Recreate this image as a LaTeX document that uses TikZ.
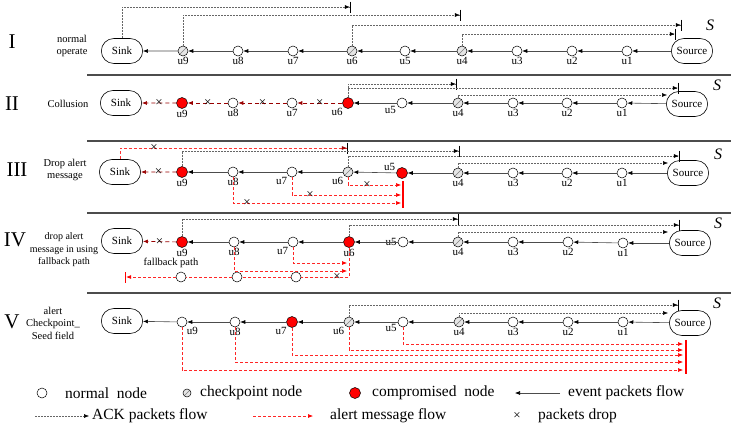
\documentclass[tikz,border=0pt]{standalone}
\usepackage{fontspec}
\setmainfont{Liberation Serif}
\usetikzlibrary{arrows.meta,shapes.misc,positioning}

\tikzset{
  nnode/.style={draw,circle,minimum size=10pt,inner sep=0pt,line width=0.5pt,fill=white},
  cnode/.style={nnode,fill=gray!20,path picture={\draw[gray,line width=0.6pt] (path picture bounding box.south west) -- (path picture bounding box.north east);}},
  rnode/.style={nnode,fill=red,minimum size=11pt},
  endbox/.style={draw,rounded rectangle,minimum width=48pt,minimum height=25pt,line width=0.6pt,font=\fontsize{11}{12}\selectfont},
  lbl/.style={font=\fontsize{11}{12}\selectfont,inner sep=1pt},
  side/.style={font=\fontsize{10.5}{12.5}\selectfont,align=center},
  numeral/.style={font=\fontsize{21}{24}\selectfont},
  skey/.style={font=\fontsize{16}{16}\selectfont\itshape},
  legtext/.style={font=\fontsize{15.5}{16}\selectfont,anchor=west,inner sep=0pt},
  xmark/.style={font=\fontsize{13}{13}\selectfont,inner sep=0pt},
  divider/.style={draw=black!70,line width=1.3pt},
  evt/.style={draw=black!70,line width=0.6pt,-{Latex[length=5pt,width=4pt,color=black]}},
  ack/.style={draw=black!60,line width=0.5pt,dash pattern=on 2pt off 1pt},
  ackbar/.style={ack,-{Latex[length=5pt,width=4pt,color=black]Bar[width=11pt,line width=1.2pt,color=black]}},
  ackarr/.style={ack,-{Latex[length=5pt,width=4pt,color=black]}},
  collude/.style={draw=red!60!black,line width=0.7pt,dash pattern=on 4pt off 3pt,-{Latex[length=5pt,width=4pt,color=red!60!black]}},
  alertline/.style={draw=red!85,line width=0.6pt,dash pattern=on 3pt off 2pt},
  alertarr/.style={alertline,-{Latex[length=5pt,width=4pt,color=red]}},
  alertbar/.style={alertline,-{Latex[length=5pt,width=4pt,color=red]Bar[width=11pt,line width=1.2pt,color=red]}},
  sinkalert/.style={draw=red!80,line width=0.6pt,dash pattern=on 3pt off 2pt,-{Latex[length=5pt,width=4pt,color=red!60!black]Bar[width=11pt,line width=1.2pt,color=black]}},
  redbar/.style={draw=red,line width=1.5pt}
}

\begin{document}
\begin{tikzpicture}[x=1pt,y=-1pt]
\useasboundingbox (0,0) rectangle (731,426);

% I: normal operate
\node[numeral] (n1) at (12,42) {I};
\node[side] (t1) at (72,46) {normal\\operate};
\node[endbox] (p1sink) at (122,51) {Sink};
\node[cnode,label={[lbl]below:u9}] (p1u9) at (183,51) {};
\node[nnode,label={[lbl]below:u8}] (p1u8) at (238,51) {};
\node[nnode,label={[lbl]below:u7}] (p1u7) at (293,51) {};
\node[cnode,label={[lbl]below:u6}] (p1u6) at (352,51) {};
\node[nnode,label={[lbl]below:u5}] (p1u5) at (405,51) {};
\node[cnode,label={[lbl]below:u4}] (p1u4) at (462,51) {};
\node[nnode,label={[lbl]below:u3}] (p1u3) at (517,51) {};
\node[nnode,label={[lbl]below:u2}] (p1u2) at (572,51) {};
\node[nnode,label={[lbl]below:u1}] (p1u1) at (627,51) {};
\node[endbox] (p1src) at (692,51) {Source};
\node[skey] (s1) at (710,25) {S};

\draw[evt] (p1src) edge (p1u1) (p1u1) edge (p1u2) (p1u2) edge (p1u3)
  (p1u3) edge (p1u4) (p1u4) edge (p1u5) (p1u5) edge (p1u6) (p1u6) edge (p1u7)
  (p1u7) edge (p1u8) (p1u8) edge (p1u9) (p1u9) edge (p1sink);

\coordinate (p1a) at (351,7);
\coordinate (p1b) at (461,15);
\coordinate (p1c) at (682,25);
\coordinate (p1d) at (676,34);
\draw[ackbar] (p1sink.north) |- (p1a);
\draw[ackbar] (p1u9.north) |- (p1b);
\draw[ackbar] (p1u6.north) |- (p1c);
\draw[ackbar] (p1u4.north) |- (p1d);

\draw[divider] (87,75) -- (731,75);

% II: collusion
\node[numeral] (n2) at (12,104) {II};
\node[side] (t2) at (68,104) {Collusion};
\node[endbox] (p2sink) at (121,103) {Sink};
\node[rnode,label={[lbl]below:u9}] (p2u9) at (182,103) {};
\node[nnode,label={[lbl]below:u8}] (p2u8) at (233,103) {};
\node[nnode,label={[lbl]below:u7}] (p2u7) at (292,103) {};
\node[rnode,label={[lbl]below left:u6}] (p2u6) at (348,103) {};
\node[nnode,label={[lbl]200:u5}] (p2u5) at (402,103) {};
\node[cnode,label={[lbl]below:u4}] (p2u4) at (458,103) {};
\node[nnode,label={[lbl]below:u3}] (p2u3) at (513,103) {};
\node[nnode,label={[lbl]below:u2}] (p2u2) at (567,103) {};
\node[nnode,label={[lbl]below:u1}] (p2u1) at (622,103) {};
\node[endbox] (p2src) at (687,104) {Source};
\node[skey] (s2) at (717,85) {S};

\draw[evt] (p2src) edge (p2u1) (p2u1) edge (p2u2) (p2u2) edge (p2u3)
  (p2u3) edge (p2u4) (p2u4) edge (p2u5) (p2u5) edge (p2u6);
\draw[collude] (p2u6) -- (p2u7) node[xmark,midway,text=black] (x21) {×};
\draw[collude] (p2u7) -- (p2u8) node[xmark,midway,text=black] (x22) {×};
\draw[collude] (p2u8) -- (p2u9) node[xmark,midway,text=black] (x23) {×};
\draw[collude] (p2u9) -- (p2sink) node[xmark,midway,text=black] (x24) {×};

\coordinate (p2a) at (457,84);
\coordinate (p2b) at (679,88);
\coordinate (p2c) at (667,95);
\draw[ackbar] (p2u6.north) |- (p2a);
\draw[ackbar] (p2u6.north) |- (p2b);
\draw[ackarr] (p2u4.north) |- (p2c);

\draw[divider] (87,141) -- (731,141);

% III: drop alert message
\node[numeral] (n3) at (17,170) {III};
\node[side] (t3) at (65,170) {Drop alert\\message};
\node[endbox] (p3sink) at (120,172) {Sink};
\node[rnode,label={[lbl]below:u9}] (p3u9) at (182,172) {};
\node[nnode,label={[lbl]below:u8}] (p3u8) at (233,172) {};
\node[nnode,label={[lbl]below left:u7}] (p3u7) at (292,172) {};
\node[cnode,label={[lbl]below left:u6}] (p3u6) at (348,172) {};
\node[rnode,label={[lbl]170:u5}] (p3u5) at (402,173) {};
\node[cnode,label={[lbl]below:u4}] (p3u4) at (458,173) {};
\node[nnode,label={[lbl]below:u3}] (p3u3) at (513,173) {};
\node[nnode,label={[lbl]below:u2}] (p3u2) at (567,173) {};
\node[nnode,label={[lbl]below:u1}] (p3u1) at (622,173) {};
\node[endbox] (p3src) at (688,173) {Source};
\node[skey] (s3) at (718,154) {S};

\draw[evt] (p3src) edge (p3u1) (p3u1) edge (p3u2) (p3u2) edge (p3u3)
  (p3u3) edge (p3u4) (p3u4) edge (p3u5) (p3u5) edge (p3u6) (p3u6) edge (p3u7)
  (p3u7) edge (p3u8) (p3u8) edge (p3u9);
\draw[collude] (p3u9) -- (p3sink) node[xmark,midway,text=black] (x31) {×};

\coordinate (p3a) at (348,148);
\coordinate (p3b) at (460,151);
\coordinate (p3c) at (680,156);
\coordinate (p3d) at (668,163);
\draw[sinkalert] (p3sink.north) |- (p3a);
\node[xmark] (x32) at (154,148) {×};
\draw[ackbar] (p3u9.north) |- (p3b);
\draw[ackbar] (p3u6.north) |- (p3c);
\draw[ackarr] (p3u4.north) |- (p3d);

% alert copies stopped before u5
\coordinate (p3e) at (401,185);
\coordinate (p3f) at (401,195);
\coordinate (p3g) at (401,203);
\coordinate (p3top) at (403,181);
\coordinate (p3bot) at (403,208);
\draw[alertarr] (p3u6.south) |- (p3e);
\draw[alertarr] (p3u7.south) |- (p3f);
\draw[alertarr] (p3u8.south) |- (p3g);
\draw[redbar] (p3top) -- (p3bot);
\node[xmark] (x33) at (367,185) {×};
\node[xmark] (x34) at (310,195) {×};
\node[xmark] (x35) at (247,203) {×};

\draw[divider] (87,213) -- (731,213);

% IV: drop alert message in using fallback path
\node[numeral] (n4) at (15,240) {IV};
\node[side,font=\fontsize{10}{12.5}\selectfont] (t4) at (64,250) {drop alert\\message in using\\fallback path};
\node[endbox] (p4sink) at (122,241) {Sink};
\node[rnode,label={[lbl]below:u9}] (p4u9) at (182,242) {};
\node[nnode,label={[lbl]below:u8}] (p4u8) at (234,242) {};
\node[nnode,label={[lbl]below left:u7}] (p4u7) at (293,242) {};
\node[rnode,label={[lbl]below:u6}] (p4u6) at (349,242) {};
\node[nnode,label={[lbl]left:u5}] (p4u5) at (403,242) {};
\node[cnode,label={[lbl]below:u4}] (p4u4) at (458,242) {};
\node[nnode,label={[lbl]below:u3}] (p4u3) at (513,242) {};
\node[nnode,label={[lbl]below:u2}] (p4u2) at (568,242) {};
\node[nnode,label={[lbl]below:u1}] (p4u1) at (623,243) {};
\node[endbox] (p4src) at (690,243) {Source};
\node[skey] (s4) at (718,223) {S};

\draw[evt] (p4src) edge (p4u1) (p4u1) edge (p4u2) (p4u2) edge (p4u3)
  (p4u3) edge (p4u4) (p4u4) edge (p4u5) (p4u5) edge (p4u6) (p4u6) edge (p4u7)
  (p4u7) edge (p4u8) (p4u8) edge (p4u9);
\draw[collude] (p4u9) -- (p4sink) node[xmark,midway,text=black] (x41) {×};

\coordinate (p4a) at (459,219);
\coordinate (p4b) at (680,225);
\coordinate (p4c) at (668,232);
\draw[ackbar] (p4u9.north) |- (p4a);
\draw[ackbar] (p4u6.north) |- (p4b);
\draw[ackarr] (p4u4.north) |- (p4c);

% fallback path
\node[nnode] (p4f1) at (181,277) {};
\node[nnode] (p4f2) at (237,277) {};
\node[nnode] (p4f3) at (296,277) {};
\node[side] (fb) at (171,263) {fallback path};
\coordinate (p4e) at (347,263);
\coordinate (p4g) at (347,271);
\coordinate (p4end) at (125,277);
\draw[alertarr] (p4u7.south) |- (p4e);
\draw[alertarr] (p4u8.south) |- (p4g);
\draw[alertline] (p4u6.south) |- (p4f3);
\draw[alertline] (p4f3) -- (p4f2);
\draw[alertline] (p4f2) -- (p4f1);
\draw[alertbar] (p4f1) -- (p4end);
\node[xmark] (x42) at (337,277) {×};

\draw[divider] (87,293) -- (731,293);

% V: alert checkpoint seed field
\node[numeral] (n5) at (12,322) {V};
\node[side] (t5) at (53,323) {alert\\Checkpoint\_\\Seed field};
\node[endbox] (p5sink) at (122,321) {Sink};
\node[nnode,label={[lbl]below right:u9}] (p5u9) at (182,322) {};
\node[nnode,label={[lbl]below:u8}] (p5u8) at (235,322) {};
\node[rnode,label={[lbl]below left:u7}] (p5u7) at (292,322) {};
\node[cnode,label={[lbl]below left:u6}] (p5u6) at (349,322) {};
\node[nnode,label={[lbl]190:u5}] (p5u5) at (403,322) {};
\node[cnode,label={[lbl]below:u4}] (p5u4) at (459,322) {};
\node[nnode,label={[lbl]below:u3}] (p5u3) at (513,322) {};
\node[nnode,label={[lbl]below:u2}] (p5u2) at (568,322) {};
\node[nnode,label={[lbl]below:u1}] (p5u1) at (623,322) {};
\node[endbox] (p5src) at (690,323) {Source};
\node[skey] (s5) at (717,303) {S};

\draw[evt] (p5src) edge (p5u1) (p5u1) edge (p5u2) (p5u2) edge (p5u3)
  (p5u3) edge (p5u4) (p5u4) edge (p5u5) (p5u5) edge (p5u6) (p5u6) edge (p5u7)
  (p5u7) edge (p5u8) (p5u8) edge (p5u9) (p5u9) edge (p5sink);

\coordinate (p5a) at (679,305);
\coordinate (p5b) at (668,313);
\draw[ackbar] (p5u6.north) |- (p5a);
\draw[ackarr] (p5u4.north) |- (p5b);

\coordinate (p5e) at (683,344);
\coordinate (p5f) at (683,350);
\coordinate (p5g) at (683,355);
\coordinate (p5h) at (683,362);
\coordinate (p5i) at (683,370);
\coordinate (p5top) at (686,340);
\coordinate (p5bot) at (686,374);
\draw[alertarr] (p5u5.south) |- (p5e);
\draw[alertarr] (p5u6.south) |- (p5f);
\draw[alertarr] (p5u7.south) |- (p5g);
\draw[alertarr] (p5u8.south) |- (p5h);
\draw[alertarr] (p5u9.south) |- (p5i);
\draw[redbar] (p5top) -- (p5bot);

% legend
\node[nnode] (lg1) at (42,393) {};
\node[legtext] (lg1t) at (65,393) {normal\ \ node};
\node[cnode,minimum size=8pt] (lg2) at (187,393) {};
\node[legtext] (lg2t) at (200,393) {checkpoint node};
\node[rnode] (lg3) at (355,393) {};
\node[legtext] (lg3t) at (372,393) {compromised\ \ node};
\coordinate (lg4a) at (560,393);
\coordinate (lg4b) at (515,393);
\draw[evt] (lg4a) -- (lg4b);
\node[legtext] (lg4t) at (568,393) {event packets flow};
\coordinate (lg5a) at (35,416);
\coordinate (lg5b) at (89,416);
\draw[ackarr] (lg5a) -- (lg5b);
\node[legtext] (lg5t) at (92,416) {ACK packets flow};
\coordinate (lg6a) at (253,416);
\coordinate (lg6b) at (313,416);
\draw[alertarr] (lg6a) -- (lg6b);
\node[legtext] (lg6t) at (330,416) {alert message flow};
\node[xmark] (lg7) at (517,416) {×};
\node[legtext] (lg7t) at (538,416) {packets drop};
\end{tikzpicture}
\end{document}
